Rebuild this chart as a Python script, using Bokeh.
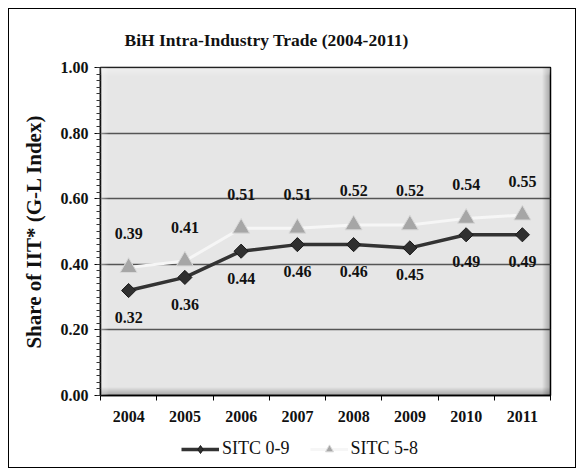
import numpy as np
from bokeh.plotting import figure
from bokeh.layouts import column
from bokeh.models import (FixedTicker, NumeralTickFormatter, Legend, LegendItem,
                          ColumnDataSource, BoxAnnotation, Range1d)
from bokeh.embed import file_html
from bokeh.resources import INLINE

# ---- data ----
years = ["2004", "2005", "2006", "2007", "2008", "2009", "2010", "2011"]
sitc_0_9 = [0.32, 0.36, 0.44, 0.46, 0.46, 0.45, 0.49, 0.49]
sitc_5_8 = [0.39, 0.41, 0.51, 0.51, 0.52, 0.52, 0.54, 0.55]
series_names = ["SITC 0-9", "SITC 5-8"]
y_ticks = [0.0, 0.2, 0.4, 0.6, 0.8, 1.0]

xpos = list(range(1, len(years) + 1))
src = ColumnDataSource(dict(
    x=xpos, a=sitc_0_9, b=sitc_5_8,
    la=[f"{v:.2f}" for v in sitc_0_9],
    lb=[f"{v:.2f}" for v in sitc_5_8],
))

SERIF = "Liberation Serif"
FW = 566

p = figure(width=FW, height=426, output_backend="svg", toolbar_location=None,
           x_range=Range1d(0.5, len(years) + 0.5), y_range=Range1d(0, 1),
           min_border_left=91, min_border_right=25, min_border_top=58,
           min_border_bottom=40, background_fill_color="#e6e6e6",
           border_fill_color="white")

# title
p.title.text = "BiH Intra-Industry Trade (2004-2011)"
p.title.text_font = SERIF
p.title.text_font_size = "17.5px"
p.title.text_font_style = "bold"
p.title.align = "left"
p.title.offset = 24
p.title.standoff = 36
p.title.text_color = "#111111"

p.outline_line_color = "black"
p.outline_line_width = 1.5

# bevel shading of the plot area
W, H = 450.0, 328.0
dx = (p.x_range.end - p.x_range.start) / W
dy = (p.y_range.end - p.y_range.start) / H
for k in range(1, 9):
    p.add_layout(BoxAnnotation(left=p.x_range.end - k * dx, fill_color="black",
                               fill_alpha=0.035, line_alpha=0))
    p.add_layout(BoxAnnotation(top=p.y_range.start + k * dy, fill_color="black",
                               fill_alpha=0.035, line_alpha=0))
    p.add_layout(BoxAnnotation(bottom=p.y_range.end - k * dy, fill_color="white",
                               fill_alpha=0.08, line_alpha=0))
    p.add_layout(BoxAnnotation(right=p.x_range.start + k * dx, fill_color="white",
                               fill_alpha=0.06, line_alpha=0))

# grid
p.xgrid.visible = False
p.ygrid.ticker = FixedTicker(ticks=y_ticks)
p.ygrid.grid_line_color = "#555555"
p.ygrid.grid_line_width = 1.5

# axes
xa = p.xaxis[0]
xa.ticker = FixedTicker(ticks=xpos, minor_ticks=[v - 0.5 for v in xpos] + [xpos[-1] + 0.5])
xa.major_label_overrides = {x: y for x, y in zip(xpos, years)}
xa.major_tick_out = 0
xa.major_tick_in = 0
xa.minor_tick_out = 5
xa.minor_tick_in = 0
xa.minor_tick_line_color = "black"
xa.axis_line_color = "black"
xa.axis_line_width = 1.5
xa.major_label_text_font = SERIF
xa.major_label_text_font_size = "16px"
xa.major_label_text_font_style = "bold"
xa.major_label_text_color = "#111111"
xa.major_label_standoff = 10

ya = p.yaxis[0]
minor = [round(0.02 * i, 2) for i in range(51)]
ya.ticker = FixedTicker(ticks=y_ticks, minor_ticks=minor)
ya.formatter = NumeralTickFormatter(format="0.00")
ya.major_tick_out = 6
ya.major_tick_in = 0
ya.minor_tick_out = 4
ya.minor_tick_in = 0
ya.major_tick_line_color = "black"
ya.minor_tick_line_color = "#333333"
ya.axis_line_color = "black"
ya.axis_line_width = 1.5
ya.major_label_text_font = SERIF
ya.major_label_text_font_size = "16px"
ya.major_label_text_font_style = "bold"
ya.major_label_text_color = "#111111"
ya.major_label_standoff = 6
ya.axis_label = "Share of IIT* (G-L Index)"
ya.axis_label_text_font = SERIF
ya.axis_label_text_font_size = "21px"
ya.axis_label_text_font_style = "bold"
ya.axis_label_text_color = "#111111"
ya.axis_label_standoff = 12

# series styles
STY_B_LINE = dict(line_color="#f6f6f6", line_width=3)
STY_B_MARK = dict(marker="triangle", size=17, fill_color="#a6a6a6",
                  line_color="#d8d8d8", line_width=1)
STY_A_LINE = dict(line_color="#333333", line_width=3.5)
STY_A_MARK = dict(marker="square", angle=np.pi / 4, size=10, fill_color="#303030",
                  line_color="#1a1a1a", line_width=1)

p.line("x", "b", source=src, **STY_B_LINE)
p.scatter("x", "b", source=src, **STY_B_MARK)
p.line("x", "a", source=src, **STY_A_LINE)
p.scatter("x", "a", source=src, **STY_A_MARK)

p.text("x", "b", text="lb", source=src, text_font="Liberation Serif",
       text_font_size="16px", text_font_style="bold", text_color="#111111",
       text_align="center", text_baseline="middle", y_offset=-34)
p.text("x", "a", text="la", source=src, text_font="Liberation Serif",
       text_font_size="16px", text_font_style="bold", text_color="#111111",
       text_align="center", text_baseline="middle", y_offset=27)

# legend strip (separate figure below the plot; its series lie outside its view)
lf = figure(width=FW, height=32, output_backend="svg", toolbar_location=None,
            x_axis_location=None, y_axis_location=None, min_border=0,
            x_range=Range1d(0, 1), y_range=Range1d(5, 6),
            background_fill_color="white", border_fill_color="white")
lf.outline_line_color = None
lf.xgrid.visible = False
lf.ygrid.visible = False
l_a = lf.line("x", "a", source=src, **STY_A_LINE)
m_a = lf.scatter("x", "a", source=src, marker="diamond", size=15,
                 fill_color="#303030", line_color="#1a1a1a", line_width=1)
l_b = lf.line("x", "b", source=src, **STY_B_LINE)
m_b = lf.scatter("x", "b", source=src, **STY_B_MARK)
legend = Legend(items=[LegendItem(label=series_names[0], renderers=[l_a, m_a]),
                       LegendItem(label=series_names[1], renderers=[l_b, m_b])],
                orientation="horizontal", location=(79, 6),
                label_text_font=SERIF, label_text_font_size="18px",
                label_text_color="#111111",
                glyph_width=38, glyph_height=20, label_standoff=3, spacing=20,
                border_line_alpha=0, background_fill_alpha=0, padding=2, margin=0)
lf.add_layout(legend)

layout = column(p, lf, spacing=0,
                styles={"border": "1.5px solid black", "margin-left": "8px",
                        "margin-top": "8px"})

open("out.html", "w").write(file_html(layout, INLINE))
